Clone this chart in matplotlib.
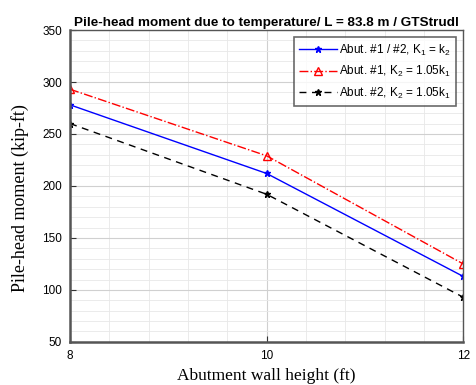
import matplotlib
matplotlib.use("Agg")
import matplotlib.pyplot as plt
from matplotlib.ticker import MultipleLocator

# wall height (ft) and pile-head moment (kip-ft)
heights = [8, 10, 12]
abut_both = [278, 212, 113]
abut1_105 = [293, 229, 125]
abut2_105 = [260, 192, 93]

labels = [r"Abut. #1 / #2, K$_1$ = k$_2$",
          r"Abut. #1, K$_2$ = 1.05k$_1$",
          r"Abut. #2, K$_2$ = 1.05k$_1$"]

plt.rcParams["font.family"] = "Liberation Sans"
plt.rcParams["mathtext.default"] = "regular"

fig = plt.figure(figsize=(4.77, 3.85), dpi=100)
ax = fig.add_axes([0.147, 0.112, 0.824, 0.810])

ax.plot(heights, abut_both, color="#0000ff", lw=1.0, marker="*", ms=5, label=labels[0])
ax.plot(heights, abut1_105, color="#ff0000", lw=1.0, ls="-.", marker="^", ms=6,
        mfc="none", mew=1.0, label=labels[1])
ax.plot(heights, abut2_105, color="black", lw=1.0, ls=(0, (5, 4)), marker="*", ms=5,
        label=labels[2])

ax.set_xlim(8, 12)
ax.set_ylim(50, 350)
ax.xaxis.set_major_locator(MultipleLocator(2))
ax.xaxis.set_minor_locator(MultipleLocator(0.4))
ax.yaxis.set_major_locator(MultipleLocator(50))
ax.yaxis.set_minor_locator(MultipleLocator(10))
ax.grid(which="major", color="#d0d0d0", lw=0.8)
ax.grid(which="minor", color="#e8e8e8", lw=0.6)
ax.tick_params(which="major", direction="in", length=4, labelsize=8.5, pad=6,
               color="#333333")
ax.tick_params(which="minor", length=0)
for s in ax.spines.values():
    s.set_color("#555555")
    s.set_linewidth(1.0)
ax.spines["left"].set_linewidth(1.8)
ax.spines["bottom"].set_linewidth(1.8)

ax.set_title("Pile-head moment due to temperature/ L = 83.8 m / GTStrudl",
             fontsize=9.7, fontweight="bold", pad=3)
ax.set_xlabel("Abutment wall height (ft)", family="Liberation Serif", fontsize=12.5,
              labelpad=4)
ax.set_ylabel("Pile-head moment (kip-ft)", family="Liberation Serif", fontsize=13)
ax.yaxis.set_label_coords(-0.105, 0.46)

leg = ax.legend(loc="upper right", fontsize=8.5, frameon=True, fancybox=False,
                edgecolor="#444444", handlelength=3.2, handletextpad=0.2,
                borderpad=0.45, labelspacing=0.55, borderaxespad=0.6)
leg.get_frame().set_linewidth(1.2)

fig.savefig("out.png", dpi=100)
